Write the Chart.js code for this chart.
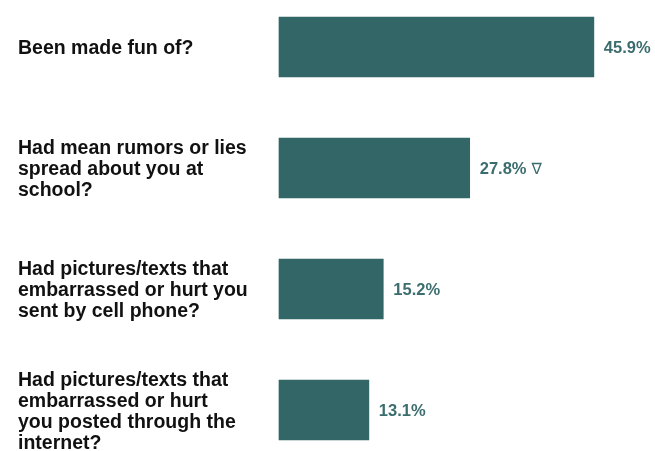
<!DOCTYPE html>
<html>
<head>
<meta charset="utf-8">
<script src="https://cdn.jsdelivr.net/npm/chart.js@4"></script>
<style>
  html, body { margin: 0; padding: 0; background: #fff; }
  #wrap { width: 655px; height: 451px; position: relative; }
</style>
</head>
<body>
<div id="wrap"><canvas id="bullyChart"></canvas></div>
<script>
const questions = [
    ['Been made fun of?'],
    ['Had mean rumors or lies', 'spread about you at', 'school?'],
    ['Had pictures/texts that', 'embarrassed or hurt you', 'sent by cell phone?'],
    ['Had pictures/texts that', 'embarrassed or hurt', 'you posted through the', 'internet?']
]
const percents = [45.9, 27.8, 15.2, 13.1]
const markers = ['', '\u2207', '', '']

const barColor = '#336666'
const labelColor = '#3b6d6e'

// draws the value text (and the small marker) to the right of each bar
const valueLabels = {
    id: 'valueLabels',
    afterDatasetsDraw(chart) {
        const ctx = chart.ctx
        const meta = chart.getDatasetMeta(0)
        ctx.save()
        ctx.fillStyle = labelColor
        ctx.textAlign = 'left'
        ctx.textBaseline = 'middle'
        meta.data.forEach((bar, i) => {
            const txt = percents[i].toFixed(1) + '%'
            ctx.font = 'bold 16.5px "Liberation Sans", Arial, sans-serif'
            ctx.fillText(txt, bar.x + 10, bar.y + 1)
            if (markers[i]) {
                const w = ctx.measureText(txt).width
                ctx.font = '15.5px "DejaVu Sans", sans-serif'
                ctx.fillText(markers[i], bar.x + 10 + w + 5, bar.y + 2)
            }
        })
        ctx.restore()
    }
}

const renderBullyChart = () => {

    const data = {
        labels: questions,
        datasets: [{
            data: percents,
            backgroundColor: barColor,
            borderWidth: 0,
            barThickness: 60,
            clip: false
        }]
    }

    const options = {
        indexAxis: 'y',
        responsive: true,
        maintainAspectRatio: false,
        animation: false,
        layout: {
            padding: { left: 18, right: 33, top: 47, bottom: 41 }
        },
        plugins: {
            legend: { display: false },
            tooltip: { enabled: false }
        },
        scales: {
            x: { display: false, min: 0, max: 50 },
            y: {
                offset: false,
                grid: { display: false },
                border: { display: false },
                afterFit: scale => { scale.width = 261 },
                ticks: {
                    crossAlign: 'far',
                    color: '#111',
                    padding: 0,
                    labelOffset: 2,
                    font: { family: '"Liberation Sans", Arial, sans-serif', size: 19.5, weight: 'bold', lineHeight: 1.08 }
                }
            }
        }
    }

    new Chart('bullyChart', { type: 'bar', data, options, plugins: [valueLabels] })
}

renderBullyChart()
</script>
</body>
</html>
